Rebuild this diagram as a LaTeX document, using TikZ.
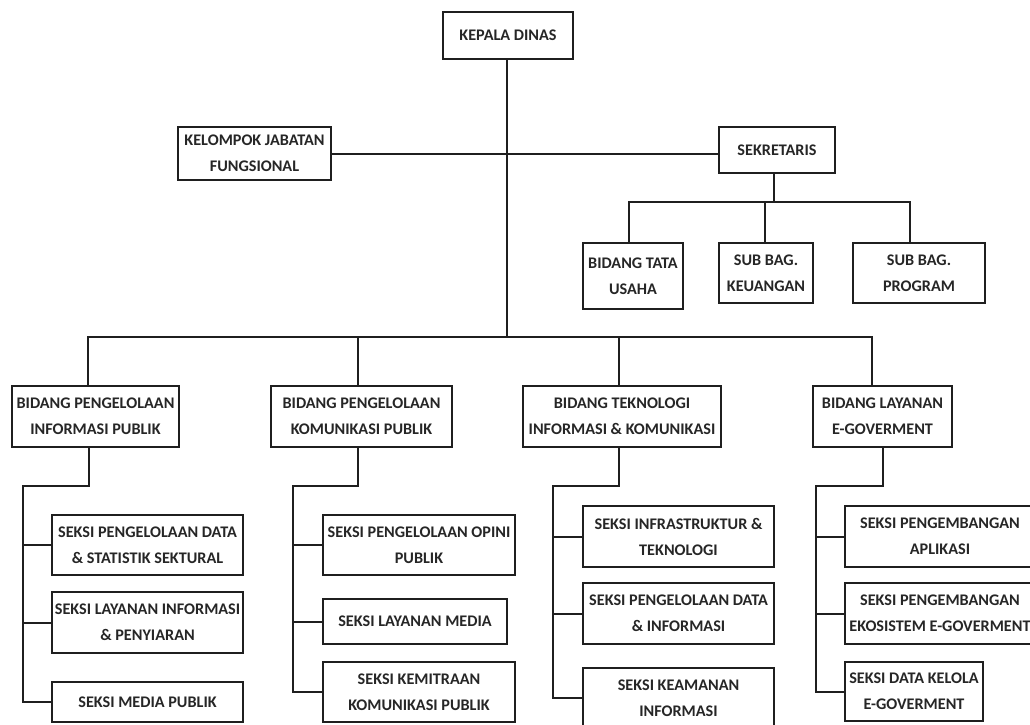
\documentclass[tikz,border=0pt]{standalone}
\usepackage{fontspec}
\setmainfont{Carlito}
\begin{document}
\begin{tikzpicture}[x=1pt,y=-1pt,
  box/.style={draw=black!88,line width=2pt,rectangle,inner sep=0pt,align=center,
    text=black!85,font=\bfseries\fontsize{16.2}{26}\selectfont},
  conn/.style={draw=black!88,line width=2pt}]
\clip (0,0) rectangle (1030,725);
\fill[white] (0,0) rectangle (1030,725);
% top level
\node[box,minimum width=130pt,minimum height=47pt] (kepala) at (508,35.5) {KEPALA DINAS};
\node[box,minimum width=153pt,minimum height=53pt] (kelompok) at (254.5,153.5) {KELOMPOK JABATAN\\FUNGSIONAL};
\node[box,minimum width=116pt,minimum height=46pt] (sekretaris) at (777,150) {SEKRETARIS};
\node[box,minimum width=100pt,minimum height=66pt] (tatausaha) at (633,276) {BIDANG TATA\\USAHA};
\node[box,minimum width=94pt,minimum height=60pt] (keuangan) at (766,273) {SUB BAG.\\KEUANGAN};
\node[box,minimum width=132pt,minimum height=60pt] (program) at (919,273) {SUB BAG.\\PROGRAM};
% bidang
\node[box,minimum width=167pt,minimum height=61pt] (bip) at (95.5,416.5) {BIDANG PENGELOLAAN\\INFORMASI PUBLIK};
\node[box,minimum width=181pt,minimum height=61pt] (bkp) at (361.5,416.5) {BIDANG PENGELOLAAN\\KOMUNIKASI PUBLIK};
\node[box,minimum width=198pt,minimum height=61pt] (btik) at (622,416.5) {BIDANG TEKNOLOGI\\INFORMASI \& KOMUNIKASI};
\node[box,minimum width=139pt,minimum height=61pt] (ble) at (882.5,416.5) {BIDANG LAYANAN\\E-GOVERMENT};
% seksi column 1
\node[box,minimum width=191pt,minimum height=60pt] (s11) at (147.5,545) {SEKSI PENGELOLAAN DATA\\\& STATISTIK SEKTURAL};
\node[box,minimum width=191pt,minimum height=61pt] (s12) at (147.5,622.5) {SEKSI LAYANAN INFORMASI\\\& PENYIARAN};
\node[box,minimum width=191pt,minimum height=40pt] (s13) at (147.5,702) {SEKSI MEDIA PUBLIK};
% column 2
\node[box,minimum width=192pt,minimum height=60pt] (s21) at (419,545) {SEKSI PENGELOLAAN OPINI\\PUBLIK};
\node[box,minimum width=184pt,minimum height=45pt] (s22) at (415,621.5) {SEKSI LAYANAN MEDIA};
\node[box,minimum width=192pt,minimum height=60pt] (s23) at (419,692) {SEKSI KEMITRAAN\\KOMUNIKASI PUBLIK};
% column 3
\node[box,minimum width=191pt,minimum height=61pt] (s31) at (678.5,536.5) {SEKSI INFRASTRUKTUR \&\\TEKNOLOGI};
\node[box,minimum width=191pt,minimum height=61pt] (s32) at (678.5,613.5) {SEKSI PENGELOLAAN DATA\\\& INFORMASI};
\node[box,minimum width=191pt,minimum height=60pt] (s33) at (678.5,698) {SEKSI KEAMANAN\\INFORMASI};
% column 4
\node[box,minimum width=190pt,minimum height=61pt] (s41) at (940,536.5) {SEKSI PENGEMBANGAN\\APLIKASI};
\node[box,minimum width=190pt,minimum height=61pt] (s42) at (940,613.5) {SEKSI PENGEMBANGAN\\EKOSISTEM E-GOVERMENT};
\node[box,minimum width=138pt,minimum height=59pt] (s43) at (914,691.5) {SEKSI DATA KELOLA\\E-GOVERMENT};
% main bus
\coordinate (b1) at (88,337);
\coordinate (b2) at (358,337);
\coordinate (b3) at (619,337);
\coordinate (b4) at (872,337);
\draw[conn] (kepala.south -| 507,0) -- (507,337);
\draw[conn] (b1 |- bip.north) -- (b1) -- (b4) -- (b4 |- ble.north);
\draw[conn] (b2) -- (b2 |- bkp.north);
\draw[conn] (b3) -- (b3 |- btik.north);
% kelompok - sekretaris
\draw[conn] (kelompok.east) -- (kelompok.east -| sekretaris.west);
% sekretaris bus
\coordinate (sb) at (774,202);
\coordinate (sb1) at (629,202);
\coordinate (sb2) at (765,202);
\coordinate (sb3) at (910,202);
\draw[conn] (sekretaris.south -| sb) -- (sb);
\draw[conn] (sb1 |- tatausaha.north) -- (sb1) -- (sb3) -- (sb3 |- program.north);
\draw[conn] (sb2) -- (sb2 |- keuangan.north);
% column spines
\coordinate (j1) at (89,486);  \coordinate (k1) at (23,486);
\coordinate (j2) at (358,486); \coordinate (k2) at (293,486);
\coordinate (j3) at (619,486); \coordinate (k3) at (553,486);
\coordinate (j4) at (883,486); \coordinate (k4) at (816,486);
\draw[conn] (j1 |- bip.south) -- (j1) -- (k1) -- (k1 |- s13.west) -- (s13.west);
\draw[conn] (k1 |- s11.west) -- (s11.west);
\draw[conn] (k1 |- s12.west) -- (s12.west);
\draw[conn] (j2 |- bkp.south) -- (j2) -- (k2) -- (k2 |- s23.west) -- (s23.west);
\draw[conn] (k2 |- s21.west) -- (s21.west);
\draw[conn] (k2 |- s22.west) -- (s22.west);
\draw[conn] (j3 |- btik.south) -- (j3) -- (k3) -- (k3 |- s33.west) -- (s33.west);
\draw[conn] (k3 |- s31.west) -- (s31.west);
\draw[conn] (k3 |- s32.west) -- (s32.west);
\draw[conn] (j4 |- ble.south) -- (j4) -- (k4) -- (k4 |- s43.west) -- (s43.west);
\draw[conn] (k4 |- s41.west) -- (s41.west);
\draw[conn] (k4 |- s42.west) -- (s42.west);
\end{tikzpicture}
\end{document}
